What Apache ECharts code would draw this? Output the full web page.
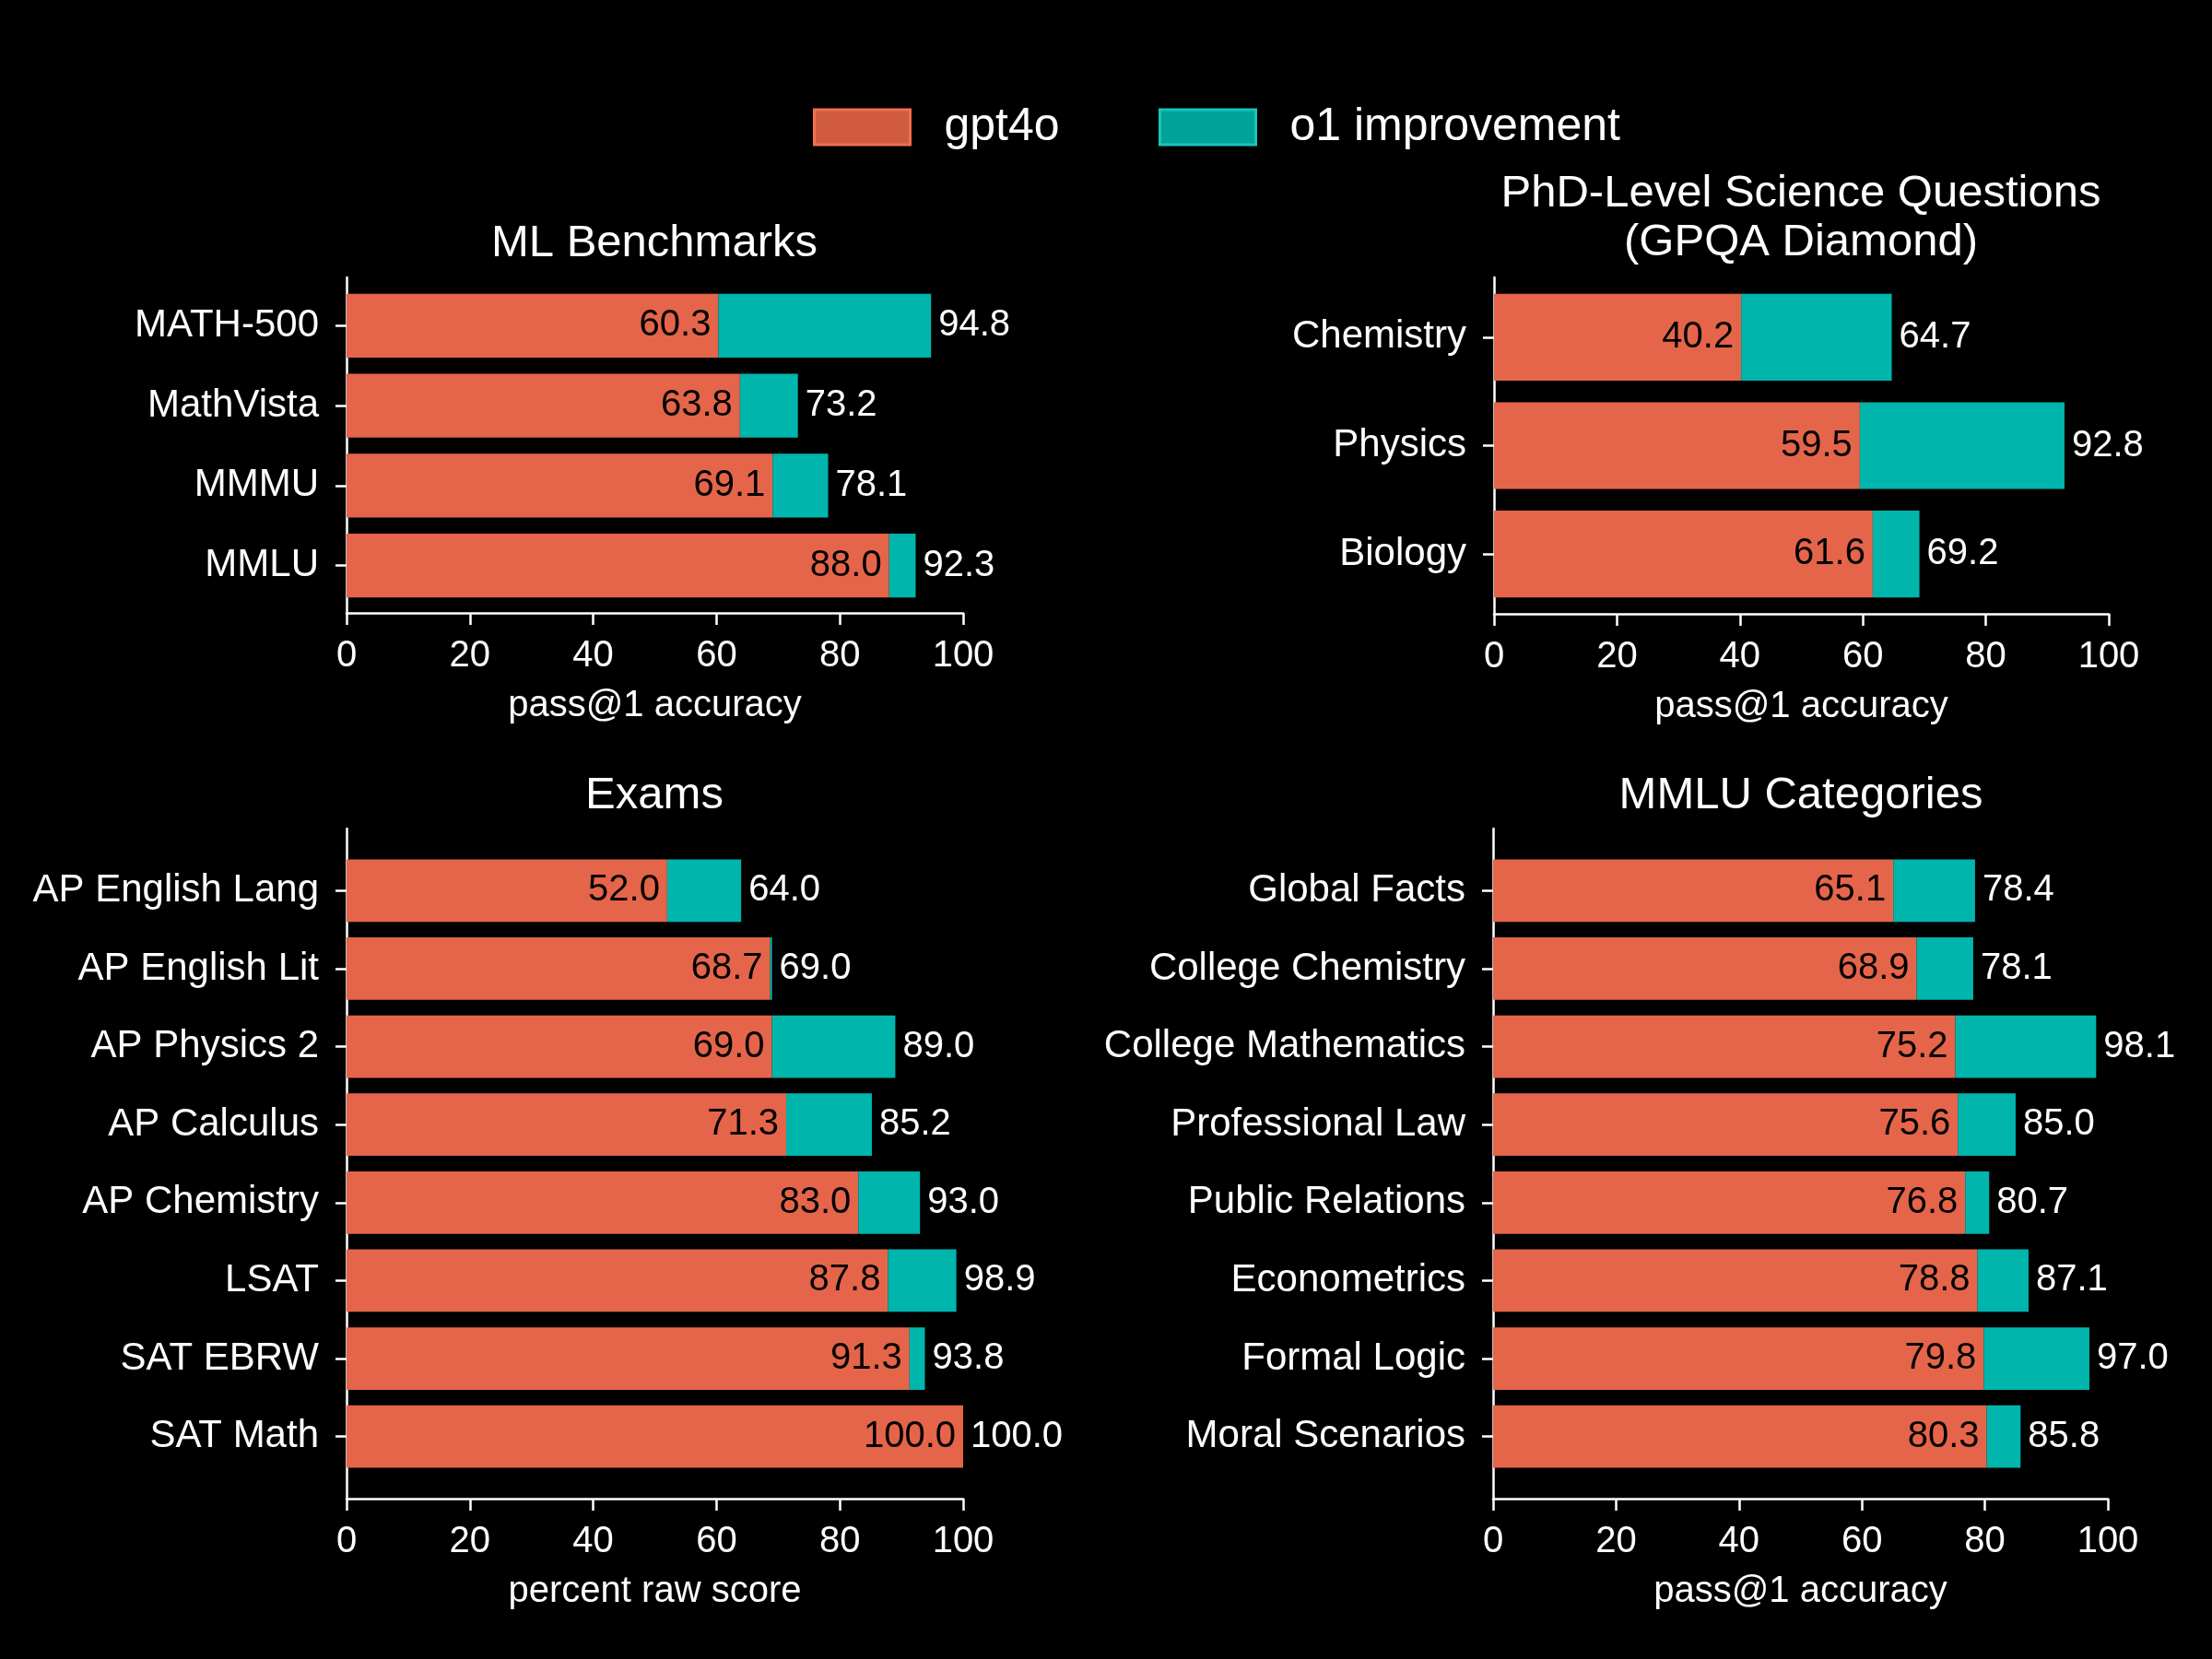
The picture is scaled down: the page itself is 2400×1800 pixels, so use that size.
<!DOCTYPE html>
<html>
<head>
<meta charset="utf-8">
<script src="https://cdn.jsdelivr.net/npm/echarts@6/dist/echarts.min.js"></script>
<style>
html,body{margin:0;padding:0;background:#000;}
#chart{width:2400px;height:1800px;}
</style>
</head>
<body>
<div id="chart"></div>
<script>
// ---- Data ----
const mlCategories = ['MATH-500', 'MathVista', 'MMMU', 'MMLU'];
const mlGpt4o = [60.3, 63.8, 69.1, 88.0];
const mlO1 = [94.8, 73.2, 78.1, 92.3];

const gpqaCategories = ['Chemistry', 'Physics', 'Biology'];
const gpqaGpt4o = [40.2, 59.5, 61.6];
const gpqaO1 = [64.7, 92.8, 69.2];

const examCategories = ['AP English Lang', 'AP English Lit', 'AP Physics 2', 'AP Calculus', 'AP Chemistry', 'LSAT', 'SAT EBRW', 'SAT Math'];
const examGpt4o = [52.0, 68.7, 69.0, 71.3, 83.0, 87.8, 91.3, 100.0];
const examO1 = [64.0, 69.0, 89.0, 85.2, 93.0, 98.9, 93.8, 100.0];

const mmluCategories = ['Global Facts', 'College Chemistry', 'College Mathematics', 'Professional Law', 'Public Relations', 'Econometrics', 'Formal Logic', 'Moral Scenarios'];
const mmluGpt4o = [65.1, 68.9, 75.2, 75.6, 76.8, 78.8, 79.8, 80.3];
const mmluO1 = [78.4, 78.1, 98.1, 85.0, 80.7, 87.1, 97.0, 85.8];

const xTicks = [0, 20, 40, 60, 80, 100];
const titles = ['ML Benchmarks', 'PhD-Level Science Questions\n(GPQA Diamond)', 'Exams', 'MMLU Categories'];
const xNames = ['pass@1 accuracy', 'pass@1 accuracy', 'percent raw score', 'pass@1 accuracy'];
const seriesNames = ['gpt4o', 'o1 improvement'];

// ---- Style ----
const FONT = '"Liberation Sans", Arial, sans-serif';
const ORANGE = '#E5654A';
const TEAL = '#00B5AC';
const WHITE = '#FFFFFF';
const LW = 2.5;

const panels = [
  {cats: mlCategories, g: mlGpt4o, o: mlO1, frame: {left: 376, width: 669, top: 301, height: 364}, bars: {left: 376, width: 669, top: 310, height: 347}},
  {cats: gpqaCategories, g: gpqaGpt4o, o: gpqaO1, frame: {left: 1621, width: 667, top: 301, height: 365}, bars: {left: 1621, width: 667, top: 307, height: 353}},
  {cats: examCategories, g: examGpt4o, o: examO1, frame: {left: 376, width: 669, top: 899, height: 727}, bars: {left: 376, width: 669, top: 924, height: 677}},
  {cats: mmluCategories, g: mmluGpt4o, o: mmluO1, frame: {left: 1620, width: 667, top: 899, height: 727}, bars: {left: 1620, width: 667, top: 924, height: 677}}
];
const titlePos = [
  {x: 710, y: 264}, {x: 1954, y: 237}, {x: 710, y: 863}, {x: 1954, y: 863}
];

const grid = [], xAxis = [], yAxis = [], series = [], graphic = [];
panels.forEach((p, i) => {
  const fi = grid.length;
  grid.push(Object.assign({containLabel: false}, p.frame));
  const bi = grid.length;
  grid.push(Object.assign({containLabel: false}, p.bars));
  // frame axes
  xAxis.push({
    gridIndex: fi, type: 'value', min: xTicks[0], max: xTicks[xTicks.length - 1], interval: xTicks[1] - xTicks[0],
    axisLine: {show: true, lineStyle: {color: WHITE, width: LW}},
    axisTick: {show: true, length: 13, lineStyle: {color: WHITE, width: LW}},
    axisLabel: {show: true, color: WHITE, fontFamily: FONT, fontSize: 40, margin: 27},
    splitLine: {show: false},
    name: xNames[i], nameLocation: 'middle', nameGap: 81,
    nameTextStyle: {color: WHITE, fontFamily: FONT, fontSize: 40}
  });
  yAxis.push({
    gridIndex: fi, type: 'value', min: 0, max: 1,
    axisLine: {show: true, onZero: false, lineStyle: {color: WHITE, width: LW}},
    axisTick: {show: false}, axisLabel: {show: false}, splitLine: {show: false}
  });
  // bar axes
  const xbi = xAxis.length;
  xAxis.push({
    gridIndex: bi, type: 'value', min: xTicks[0], max: xTicks[xTicks.length - 1], show: false, splitLine: {show: false}
  });
  const ybi = yAxis.length;
  yAxis.push({
    gridIndex: bi, type: 'category', data: p.cats, inverse: true,
    axisLine: {show: false},
    axisTick: {show: true, length: 12, alignWithLabel: true, lineStyle: {color: WHITE, width: LW}},
    axisLabel: {show: true, color: WHITE, fontFamily: FONT, fontSize: 42, margin: 30},
    splitLine: {show: false}
  });
  const improvement = p.o.map((v, k) => Math.round((v - p.g[k]) * 10) / 10);
  series.push({
    name: seriesNames[0], type: 'bar', xAxisIndex: xbi, yAxisIndex: ybi, stack: 'p' + i,
    data: p.g, barWidth: '80%', itemStyle: {color: ORANGE},
    label: {show: true, position: 'insideRight', distance: 8, color: '#000', fontFamily: FONT, fontSize: 40,
      formatter: (d) => Number(d.value).toFixed(1)}
  });
  series.push({
    name: seriesNames[1], type: 'bar', xAxisIndex: xbi, yAxisIndex: ybi, stack: 'p' + i,
    data: improvement, barWidth: '80%', itemStyle: {color: TEAL},
    label: {show: true, position: 'right', distance: 8, color: WHITE, fontFamily: FONT, fontSize: 40,
      formatter: (d) => p.o[d.dataIndex].toFixed(1)}
  });
  graphic.push({
    type: 'text', x: titlePos[i].x, y: titlePos[i].y,
    style: {text: titles[i], align: 'center', verticalAlign: 'middle', fill: WHITE,
      font: '49px ' + FONT, lineHeight: 53}
  });
});

const legendCommon = {
  orient: 'horizontal', icon: 'rect', itemWidth: 104, itemHeight: 38, padding: 0, selectedMode: false,
  textStyle: {color: WHITE, fontFamily: FONT, fontSize: 50, padding: [0, 0, 0, 32]}
};
const legend = [
  Object.assign({}, legendCommon, {left: 882, top: 113,
    data: [{name: seriesNames[0], itemStyle: {color: '#D05B41', borderColor: '#F26E4F', borderWidth: 3}}]}),
  Object.assign({}, legendCommon, {left: 1257, top: 113,
    data: [{name: seriesNames[1], itemStyle: {color: '#00A39A', borderColor: '#16C6BC', borderWidth: 3}}]})
];

const chart = echarts.init(document.getElementById('chart'), null, {renderer: 'canvas'});
chart.setOption({
  backgroundColor: '#000000',
  animation: false,
  grid, xAxis, yAxis, series, legend, graphic
});
</script>
</body>
</html>
